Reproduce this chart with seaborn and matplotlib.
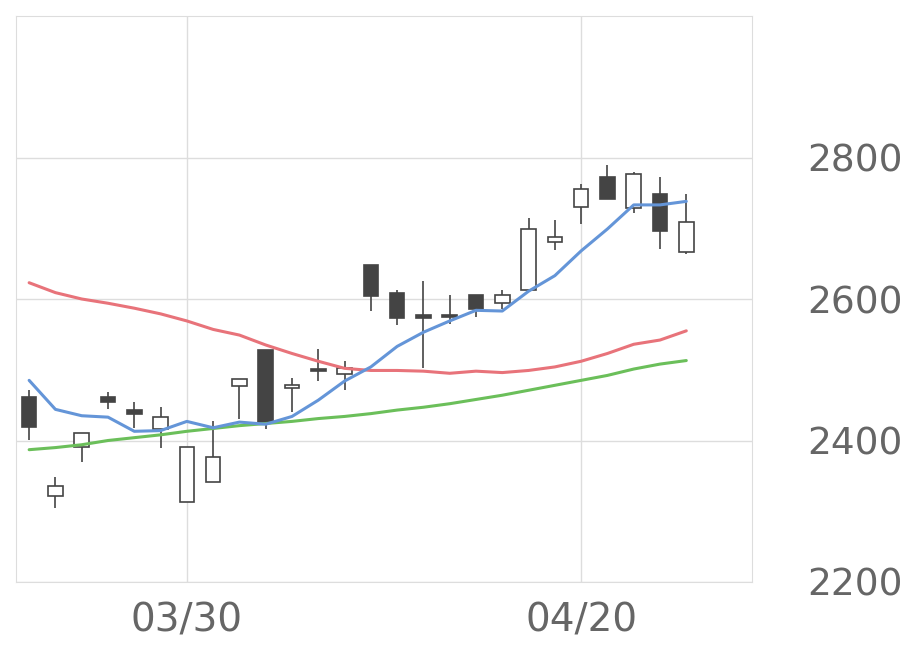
import matplotlib
matplotlib.use("Agg")
import matplotlib.pyplot as plt
import seaborn as sns
import pandas as pd
import numpy as np

opens  = [2462,2321,2391,2461,2443,2416,2313,2342,2477,2528,2474,2501,2494,2648,2608,2577,2577,2606,2594,2613,2681,2730,2773,2728,2749,2667]
closes = [2419,2335,2410,2455,2437,2433,2391,2377,2487,2425,2479,2498,2502,2604,2573,2573,2574,2586,2606,2699,2688,2755,2741,2777,2696,2709]
highs  = [2472,2349,2410,2469,2455,2447,2391,2428,2487,2528,2489,2529,2513,2648,2613,2626,2606,2606,2613,2715,2711,2762,2790,2780,2772,2749]
lows   = [2401,2305,2370,2444,2418,2389,2313,2342,2430,2416,2440,2484,2472,2583,2563,2503,2565,2575,2586,2613,2669,2706,2741,2721,2671,2664]
ma_short = [2485,2444,2435,2433,2413,2414,2427,2418,2426,2423,2434,2457,2484,2504,2533,2553,2569,2584,2583,2611,2633,2668,2699,2733,2733,2738]
ma_mid   = [2623,2609,2600,2594,2587,2579,2569,2557,2549,2535,2523,2512,2502,2499,2499,2498,2495,2498,2496,2499,2504,2512,2523,2536,2542,2555]
ma_long  = [2387,2390,2394,2400,2404,2408,2413,2417,2421,2424,2427,2431,2434,2438,2443,2447,2452,2458,2464,2471,2478,2485,2492,2501,2508,2513]
tick_pos = [6, 21]
tick_labels = ["03/30", "04/20"]
y_ticks = [2200, 2400, 2600, 2800]

sns.set_style("white")
fig = plt.figure(figsize=(9.2, 6.69), dpi=100)
ax = fig.add_axes([16/920, 1-582/669, (752-16)/920, 566/669])
x = np.arange(len(opens))
df = pd.DataFrame({"x": x, "s": ma_short, "m": ma_mid, "l": ma_long})

for i in x:
    o, c = opens[i], closes[i]
    ax.vlines(i, lows[i], highs[i], color="#444444", lw=1.2, zorder=2)
    up = c >= o
    ax.bar(i, abs(c-o) if abs(c-o) > 0 else 1.5, bottom=min(o, c), width=0.55,
           color="white" if up else "#444444", edgecolor="#444444", lw=1.2, zorder=3)

sns.lineplot(data=df, x="x", y="m", color="#e8737a", lw=2.2, ax=ax, zorder=4)
sns.lineplot(data=df, x="x", y="l", color="#6bbf5a", lw=2.2, ax=ax, zorder=4)
sns.lineplot(data=df, x="x", y="s", color="#6495d8", lw=2.2, ax=ax, zorder=5)

ax.set_xlim(-0.5, 27.5)
ax.set_ylim(2200, 3000)
ax.set_xticks(tick_pos)
ax.set_xticklabels(tick_labels)
ax.set_yticks(y_ticks)
ax.yaxis.tick_right()
ax.tick_params(axis="y", length=0, pad=40, labelsize=27, labelcolor="#666666")
ax.tick_params(axis="x", length=0, pad=14, labelsize=28, labelcolor="#666666")
ax.set_xlabel(""); ax.set_ylabel("")
ax.grid(True, color="#dddddd", lw=1)
for s in ax.spines.values():
    s.set_color("#dddddd")
fig.savefig("out.png", dpi=100)
